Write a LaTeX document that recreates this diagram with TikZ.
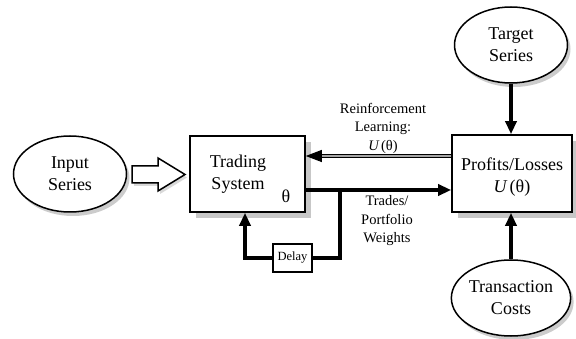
\documentclass[tikz,border=0pt]{standalone}
\usepackage{fontspec}
\setmainfont{Liberation Serif}
\usetikzlibrary{arrows.meta,shapes.geometric,shadows,calc}
\begin{document}
\begin{tikzpicture}[x=1pt,y=-1pt,
 shd/.style={drop shadow={shadow xshift=6pt,shadow yshift=-6pt,fill=black!22,opacity=1}},
 oval/.style={ellipse,draw,line width=1.5pt,fill=white,minimum width=113pt,minimum height=76pt,inner sep=0pt,align=center,font=\fontsize{18}{22}\selectfont,drop shadow={shadow xshift=3pt,shadow yshift=-4pt,fill=black!20,opacity=1}},
 box/.style={draw,line width=1.6pt,fill=white,inner sep=0pt,shd},
 txt/.style={font=\fontsize{18}{22}\selectfont,align=center,inner sep=0pt},
 lbl/.style={font=\fontsize{14.5}{18.5}\selectfont,align=center,inner sep=0pt},
 thk/.style={line width=4pt,-{Triangle[length=13pt,width=11pt]}},
]
\useasboundingbox (0,0) rectangle (576,339);
% nodes
\node[oval] (inp) at (70,174) {Input\\Series};
\node[box,minimum width=115pt,minimum height=76pt] (ts) at (247.5,174) {};
\node[txt] (tst) at (238,174) {Trading\\System};
\node[txt] (th) at (286,196) {θ};
\node[box,minimum width=120pt,minimum height=77pt] (pl) at (512,173.5) {};
\node[txt] (plt) at (512,177) {Profits/Losses\\{\itshape U}\,(θ)};
\node[oval] (tg) at (511,45) {Target\\Series};
\node[oval] (tc) at (511,298) {Transaction\\Costs};
\node[draw,line width=1.5pt,fill=white,minimum width=39pt,minimum height=28pt,inner sep=0pt,font=\fontsize{12.5}{14}\selectfont] (dl) at (292.5,258) {Delay};
% hollow block arrow
\draw[line width=1.5pt,fill=white,drop shadow={shadow xshift=2pt,shadow yshift=-3pt,fill=black!15,opacity=1}]
  (132,166) -- (158,166) -- (158,158) -- (185,174.5) -- (158,191) -- (158,183) -- (132,183) -- cycle;
% labels
\node[lbl] (rlt) at (383,128) {Reinforcement\\Learning:\\{\itshape U}\,(θ)};
\node[lbl] (trt) at (387,221) {Trades/\\Portfolio\\Weights};
% connectors
\coordinate (rl) at (380,156);
\coordinate (tr) at (340,190);
\draw[double=black!35,double distance=2.5pt,line width=1pt,-{Triangle[length=16pt,width=12pt]}] (pl.west |- rl) -- (ts.east |- rl);
\draw[thk] (ts.east |- tr) -- (pl.west |- tr);
\draw[line width=4pt] (tr) |- (dl.east);
\draw[thk] (dl.west) -| ($(ts.south)+(-2.5,0)$);
\draw[thk] (tg.south) -- (tg.south |- pl.north);
\draw[thk] (tc.north) -- (tc.north |- pl.south);
\end{tikzpicture}
\end{document}
